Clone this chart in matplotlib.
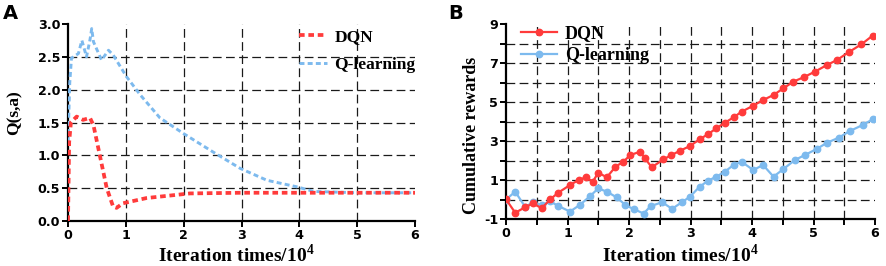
import matplotlib
matplotlib.use("Agg")
import matplotlib.pyplot as plt
from matplotlib.lines import Line2D

plt.rcParams['mathtext.fontset'] = 'custom'
plt.rcParams['mathtext.rm'] = 'Liberation Serif:bold'
plt.rcParams['mathtext.bf'] = 'Liberation Serif:bold'
plt.rcParams['axes.unicode_minus'] = False

# ---------------- Data: panel A ----------------
dqn_a_x = [0, 0.02, 0.05, 0.15, 0.26, 0.38, 0.44, 0.55, 0.67, 0.78, 0.84, 0.95, 1.36, 2.11, 3, 4, 5, 6]
dqn_a_y = [0, 1.2, 1.5, 1.59, 1.54, 1.57, 1.46, 1.0, 0.5, 0.22, 0.2, 0.27, 0.35, 0.42, 0.43, 0.43, 0.43, 0.43]
q_a_x = [0, 0.03, 0.06, 0.18, 0.24, 0.32, 0.38, 0.41, 0.44, 0.58, 0.7, 0.78, 1.01, 1.25, 1.59, 2.0,
         2.51, 2.98, 3.44, 3.96, 4.25, 5, 6]
q_a_y = [1.2, 2.1, 2.48, 2.55, 2.75, 2.5, 2.76, 2.93, 2.73, 2.45, 2.6, 2.53, 2.2, 1.92, 1.57, 1.33,
         1.05, 0.8, 0.62, 0.52, 0.45, 0.43, 0.43]

# ---------------- Data: panel B ----------------
dqn_b_x = [0, 0.15, 0.31, 0.44, 0.58, 0.72, 0.85, 1.04, 1.18, 1.3, 1.41, 1.5, 1.64, 1.78, 1.91, 2.02,
           2.18, 2.26, 2.37, 2.56, 2.69, 2.83, 2.99, 3.15, 3.29, 3.42, 3.56, 3.7, 3.83, 4.02, 4.18,
           4.35, 4.51, 4.67, 4.84, 5.02, 5.22, 5.38, 5.57, 5.78, 5.96]
dqn_b_y = [0.01, -0.68, -0.4, -0.2, -0.45, 0.01, 0.35, 0.74, 1.0, 1.14, 0.91, 1.37, 1.14, 1.68, 1.94, 2.28,
           2.45, 2.11, 1.65, 2.06, 2.28, 2.5, 2.74, 3.09, 3.36, 3.65, 3.94, 4.21, 4.5, 4.81, 5.1,
           5.36, 5.7, 6.04, 6.27, 6.55, 6.9, 7.15, 7.55, 7.96, 8.4]
q_b_x = [0, 0.15, 0.31, 0.44, 0.58, 0.72, 0.85, 1.04, 1.2, 1.37, 1.5, 1.64, 1.8, 1.94, 2.08, 2.24,
         2.35, 2.54, 2.7, 2.86, 2.99, 3.15, 3.29, 3.42, 3.56, 3.7, 3.83, 4.02, 4.18, 4.35, 4.51,
         4.7, 4.86, 5.05, 5.22, 5.41, 5.59, 5.8, 5.96]
q_b_y = [0.0, 0.4, -0.37, -0.15, -0.3, -0.1, -0.33, -0.62, -0.28, 0.18, 0.57, 0.4, 0.11, -0.28, -0.5, -0.72,
         -0.34, -0.14, -0.48, -0.14, 0.14, 0.66, 0.97, 1.17, 1.43, 1.77, 1.94, 1.51, 1.77, 1.17, 1.56,
         2.03, 2.28, 2.59, 2.91, 3.17, 3.51, 3.82, 4.11]

labels = ['DQN', 'Q-learning']
a_xticks = [0, 1, 2, 3, 4, 5, 6]
a_yticks = [0.0, 0.5, 1.0, 1.5, 2.0, 2.5, 3.0]
b_xticks = [0, 1, 2, 3, 4, 5, 6]
b_yticks = [-1, 1, 3, 5, 7, 9]

RED = '#ff3b3b'
BLUE = '#7dbaee'
GRID = dict(color='#1a1a1a', lw=0.9, linestyle=(0, (7, 3.5)), zorder=0)

fig = plt.figure(figsize=(8.86, 2.66), dpi=100)
axA = fig.add_axes([68/886, 45/266, 347/886, 197/266])
axB = fig.add_axes([506/886, 47/266, 369/886, 195/266])

labfont = dict(family='Liberation Serif', weight='bold')

def style(ax):
    for s in ['top', 'right']:
        ax.spines[s].set_visible(False)
    for s in ['left', 'bottom']:
        ax.spines[s].set_linewidth(1.6)
    ax.tick_params(which='both', direction='out', width=1.4, pad=1.5)
    ax.tick_params(which='major', length=4)
    ax.tick_params(which='minor', length=4)
    for lab in ax.get_xticklabels() + ax.get_yticklabels():
        lab.set_fontfamily('DejaVu Sans')
        lab.set_fontweight('bold')
        lab.set_fontsize(9.2)

# ---------------- Panel A ----------------
axA.set_xlim(0, 6)
axA.set_ylim(0, 3.0)
for v in [1, 2, 3, 4, 5]:
    axA.axvline(v, **GRID)
for v in [0.5, 1.0, 1.5, 2.0, 2.5]:
    axA.axhline(v, **GRID)
axA.plot(q_a_x, q_a_y, color=BLUE, lw=2.1, dashes=(1.7, 1.1), zorder=3, label=labels[1])
axA.plot(dqn_a_x, dqn_a_y, color=RED, lw=2.7, dashes=(1.5, 1.0), zorder=4, label=labels[0])
axA.set_xticks(a_xticks)
axA.set_yticks(a_yticks)
axA.set_yticklabels([f'{v:.1f}' for v in a_yticks])
style(axA)
axA.set_xlabel(r'Iteration times/10$^{4}$', fontsize=14, **labfont)
axA.xaxis.set_label_coords(0.485, -(262 - 221) / 197)
axA.xaxis.label.set_va('baseline')
axA.set_ylabel('Q(s,a)', fontsize=12.5, **labfont)
axA.yaxis.set_label_coords(-0.13, 0.55)
hA = [Line2D([], [], color=RED, lw=2.7, dashes=(1.5, 1.0)),
      Line2D([], [], color=BLUE, lw=2.1, dashes=(1.7, 1.1))]
axA.legend(hA, labels, loc='upper left', bbox_to_anchor=(0.665, 0.975), frameon=False,
           prop=dict(family='Liberation Serif', weight='bold', size=12.5),
           handlelength=1.6, handletextpad=0.45, labelspacing=0.7, borderpad=0, borderaxespad=0)

# ---------------- Panel B ----------------
axB.set_xlim(0, 6)
axB.set_ylim(-1, 9)
for v in [0.5, 1, 1.5, 2, 2.5, 3, 3.5, 4, 4.5, 5, 5.5]:
    axB.axvline(v, **GRID)
for v in [0, 1, 2, 3, 4, 5, 6, 7, 8]:
    axB.axhline(v, **GRID)
axB.plot(q_b_x, q_b_y, color=BLUE, lw=1.6, marker='o', ms=4.6, zorder=3, label=labels[1])
axB.plot(dqn_b_x, dqn_b_y, color=RED, lw=1.6, marker='o', ms=4.6, zorder=4, label=labels[0])
axB.set_xticks(b_xticks)
axB.set_xticks([0.5, 1.5, 2.5, 3.5, 4.5, 5.5], minor=True)
axB.set_yticks(b_yticks)
axB.set_yticks([0, 2, 4, 6, 8], minor=True)
style(axB)
axB.set_xlabel(r'Iteration times/10$^{4}$', fontsize=14, **labfont)
axB.xaxis.set_label_coords(0.473, -(262 - 219) / 195)
axB.xaxis.label.set_va('baseline')
axB.set_ylabel('Cumulative rewards', fontsize=13, **labfont)
axB.yaxis.set_label_coords(-0.07, 0.43)
hB = [Line2D([], [], color=RED, lw=1.6, marker='o', ms=4.6),
      Line2D([], [], color=BLUE, lw=1.6, marker='o', ms=4.6)]
axB.legend(hB, labels, loc='upper left', bbox_to_anchor=(0.04, 0.995), frameon=False,
           prop=dict(family='Liberation Serif', weight='bold', size=13),
           handlelength=2.0, handletextpad=0.45, labelspacing=0.3, borderpad=0, borderaxespad=0)

fig.text(3/886, 1 - 4/266, 'A', fontsize=14, fontweight='bold', family='DejaVu Sans', va='top', ha='left')
fig.text(448/886, 1 - 4/266, 'B', fontsize=14, fontweight='bold', family='DejaVu Sans', va='top', ha='left')

fig.savefig('out.png', dpi=100)
